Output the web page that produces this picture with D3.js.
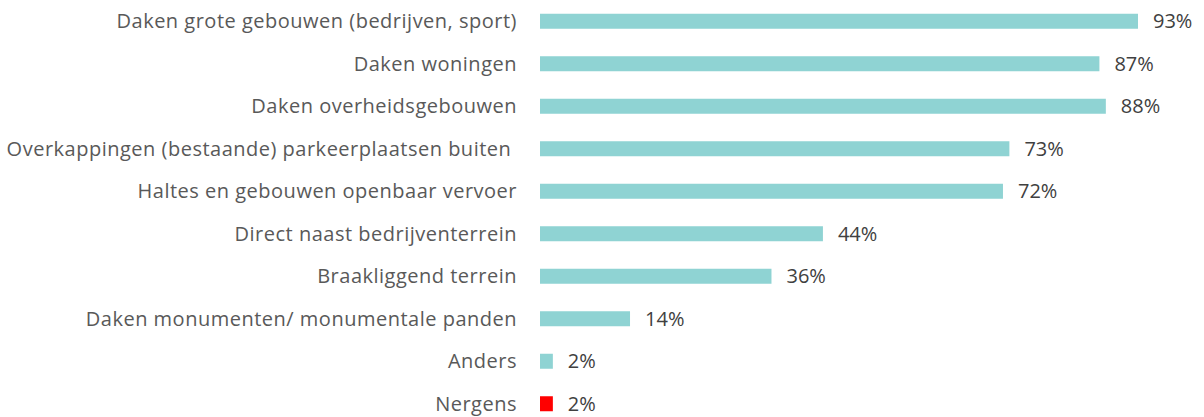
<!DOCTYPE html>
<html>
<head>
<meta charset="utf-8">
<script src="https://cdn.jsdelivr.net/npm/d3@7"></script>
<style>
  body { margin: 0; background: #fff; }
  svg text { font-family: "Open Sans", sans-serif; white-space: pre; }
</style>
</head>
<body>
<div id="chart"></div>
<script>
// data
const categories = [
  "Daken grote gebouwen (bedrijven, sport)",
  "Daken woningen",
  "Daken overheidsgebouwen",
  "Overkappingen (bestaande) parkeerplaatsen buiten ",
  "Haltes en gebouwen openbaar vervoer",
  "Direct naast bedrijventerrein",
  "Braakliggend terrein",
  "Daken monumenten/ monumentale panden",
  "Anders",
  "Nergens"
];
const values = [93, 87, 88, 73, 72, 44, 36, 14, 2, 2];
const highlight = ["Nergens"];

const data = categories.map((c, i) => ({ cat: c, value: values[i] }));

const W = 1204, H = 417;
const x0 = 540;

const svg = d3.select("#chart").append("svg")
  .attr("width", W)
  .attr("height", H);

const y = d3.scaleBand()
  .domain(categories)
  .range([0, 425])
  .paddingInner(0.647)
  .paddingOuter(0.3235);

const x = d3.scaleLinear()
  .domain([0, 100])
  .range([x0, x0 + 643]);

// labels
svg.append("g").selectAll("text")
  .data(data)
  .enter()
  .append("text")
  .attr("x", 517)
  .attr("y", d => y(d.cat) + y.bandwidth() / 2)
  .attr("dy", ".35em")
  .attr("text-anchor", "end")
  .style("font-size", "20px")
  .style("letter-spacing", "0.5px")
  .style("fill", "#595959")
  .text(d => d.cat);

// bars
svg.append("g").selectAll("rect")
  .data(data)
  .enter()
  .append("rect")
  .attr("x", x(0))
  .attr("y", d => y(d.cat))
  .attr("width", d => x(d.value) - x(0))
  .attr("height", y.bandwidth())
  .attr("fill", d => highlight.includes(d.cat) ? "#ff0000" : "#8fd3d3");

// value labels
svg.append("g").selectAll("text")
  .data(data)
  .enter()
  .append("text")
  .attr("x", d => x(d.value) + 15)
  .attr("y", d => y(d.cat) + y.bandwidth() / 2)
  .attr("dy", ".35em")
  .style("font-size", "20px")
  .style("fill", "#404040")
  .text(d => d.value + "%");
</script>
</body>
</html>
